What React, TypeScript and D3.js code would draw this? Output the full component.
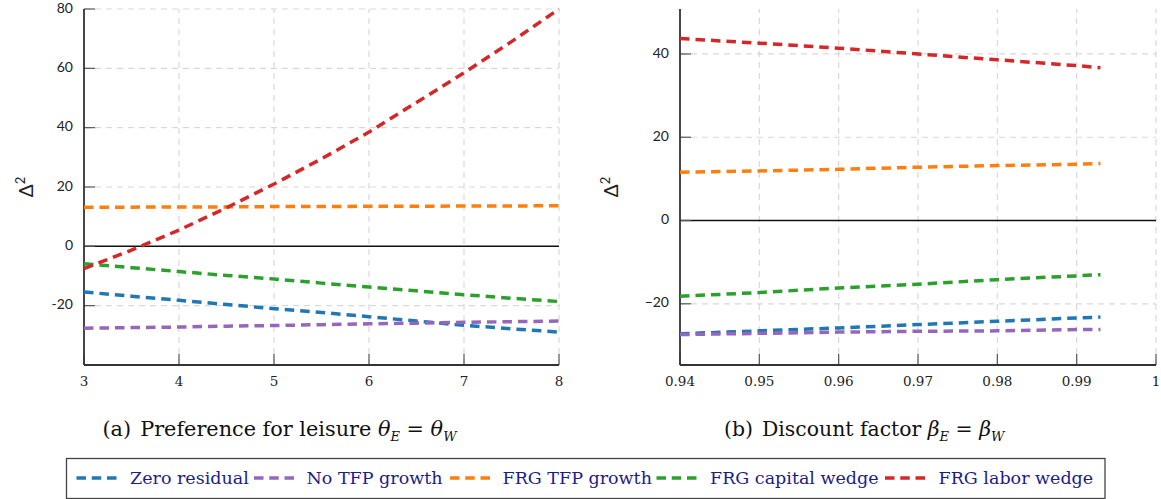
import React from "react";
import * as d3 from "d3";

// Sensitivity of Δ² to the preference for leisure θ_E = θ_W
const thetaGrid = [3, 3.5, 4, 4.5, 5, 5.5, 6, 6.5, 7, 7.5, 8];
const thetaZeroResidual = [-15.4, -16.8, -18.2, -19.6, -21.0, -22.3, -23.7, -25.2, -26.6, -27.8, -28.9];
const thetaNoTfpGrowth = [-27.6, -27.4, -27.2, -26.9, -26.7, -26.4, -26.1, -25.9, -25.6, -25.4, -25.2];
const thetaFrgTfpGrowth = [13.2, 13.2, 13.3, 13.3, 13.4, 13.4, 13.5, 13.5, 13.6, 13.6, 13.7];
const thetaFrgCapitalWedge = [-5.9, -7.2, -8.5, -9.8, -11.0, -12.4, -13.7, -15.0, -16.3, -17.5, -18.6];
const thetaFrgLaborWedge = [-7.5, -1.3, 5.5, 13.0, 21.0, 29.5, 38.5, 48.5, 58.5, 69.0, 80.0];
const thetaTicksX = [3, 4, 5, 6, 7, 8];
const thetaTicksY = [-20, 0, 20, 40, 60, 80];

// Sensitivity of Δ² to the discount factor β_E = β_W
const betaGrid = [0.94, 0.95, 0.96, 0.97, 0.98, 0.99, 0.993];
const betaZeroResidual = [-27.2, -26.5, -25.8, -25.0, -24.2, -23.4, -23.2];
const betaNoTfpGrowth = [-27.4, -27.1, -26.8, -26.6, -26.5, -26.2, -26.2];
const betaFrgTfpGrowth = [11.6, 11.9, 12.3, 12.8, 13.2, 13.5, 13.7];
const betaFrgCapitalWedge = [-18.2, -17.3, -16.2, -15.3, -14.2, -13.3, -13.0];
const betaFrgLaborWedge = [43.7, 42.6, 41.4, 40.0, 38.6, 37.2, 36.7];
const betaTicksX = [0.94, 0.95, 0.96, 0.97, 0.98, 0.99, 1];
const betaTicksY = [-20, 0, 20, 40];

const seriesNames = ["Zero residual", "No TFP growth", "FRG TFP growth", "FRG capital wedge", "FRG labor wedge"];
const seriesColors = ["#1f77b4", "#9467bd", "#ff7f0e", "#2ca02c", "#d62728"];

const SANS = "Lato, 'Open Sans', sans-serif";
const SERIF = "'DejaVu Serif', serif";
const INK = "#1c1c8a";

type PanelProps = {
  xGrid: number[];
  series: number[][];
  xDomain: [number, number];
  yDomain: [number, number];
  xRange: [number, number];
  yRange: [number, number];
  xTicks: number[];
  yTicks: number[];
  xFmt: (v: number) => string;
  yFmt: (v: number) => string;
  yLabelX: number;
};

function Panel(p: PanelProps) {
  const x = d3.scaleLinear().domain(p.xDomain).range(p.xRange);
  const y = d3.scaleLinear().domain(p.yDomain).range(p.yRange);
  const [x0, x1] = p.xRange;
  const [yb, yt] = p.yRange;
  const line = d3
    .line<[number, number]>()
    .x((d) => x(d[0]))
    .y((d) => y(d[1]));
  const tickLen = 11;
  return (
    <g>
      {/* grid */}
      {p.xTicks
        .filter((t) => x(t) > x0 + 1)
        .map((t) => (
          <line key={"gx" + t} x1={x(t)} x2={x(t)} y1={yb} y2={yt} stroke="#d9d9d9" strokeWidth={1.2} strokeDasharray="6,5" />
        ))}
      {p.yTicks
        .filter((t) => t !== 0)
        .map((t) => (
          <line key={"gy" + t} x1={x0} x2={x1} y1={y(t)} y2={y(t)} stroke="#d9d9d9" strokeWidth={1.2} strokeDasharray="6,5" />
        ))}
      {/* zero line */}
      <line x1={x0} x2={x1} y1={y(0)} y2={y(0)} stroke="#111" strokeWidth={1.5} />
      {/* ticks */}
      {p.xTicks.map((t) => (
        <line key={"tx" + t} x1={x(t)} x2={x(t)} y1={yb} y2={yb - tickLen} stroke="#555" strokeWidth={1.2} />
      ))}
      {p.yTicks.map((t) => (
        <line key={"ty" + t} x1={x0} x2={x0 + tickLen} y1={y(t)} y2={y(t)} stroke="#555" strokeWidth={1.2} />
      ))}
      {/* axes */}
      <line x1={x0} x2={x0} y1={yt} y2={yb} stroke="#333" strokeWidth={1.8} />
      <line x1={x0} x2={x1} y1={yb} y2={yb} stroke="#333" strokeWidth={1.8} />
      {/* series */}
      {p.series.map((vals, i) => (
        <path
          key={"s" + i}
          d={line(p.xGrid.map((g, j) => [g, vals[j]] as [number, number])) || ""}
          fill="none"
          stroke={seriesColors[i]}
          strokeWidth={3.5}
          strokeDasharray="9.5,6"
        />
      ))}
      {/* tick labels */}
      {p.xTicks.map((t) => (
        <text key={"lx" + t} x={x(t)} y={yb + 17} textAnchor="middle" dominantBaseline="middle" fontFamily={SERIF} fontSize={13.5} fill="#222">
          {p.xFmt(t)}
        </text>
      ))}
      {p.yTicks.map((t) => (
        <text key={"ly" + t} x={x0 - 11} y={y(t)} textAnchor="end" dominantBaseline="middle" fontFamily={SANS} fontSize={14} fill="#222">
          {p.yFmt(t)}
        </text>
      ))}
      {/* y label */}
      <text transform={`translate(${p.yLabelX},${(yt + yb) / 2}) rotate(-90)`} textAnchor="middle" fontFamily={SANS} fontSize={19} fill="#222">
        Δ<tspan dy={-8} fontSize={13}>2</tspan>
      </text>
    </g>
  );
}

export default function App() {
  const thetaSeries = [thetaZeroResidual, thetaNoTfpGrowth, thetaFrgTfpGrowth, thetaFrgCapitalWedge, thetaFrgLaborWedge];
  const betaSeries = [betaZeroResidual, betaNoTfpGrowth, betaFrgTfpGrowth, betaFrgCapitalWedge, betaFrgLaborWedge];
  const legendDashX = [76.5, 254, 450, 656.5, 885];
  const legendTextX = [130, 306.5, 502.5, 710, 938.5];
  return (
    <svg width={1161} height={499} style={{ position: "absolute", left: 0, top: 0, background: "#fff" }}>
      <rect width={1161} height={499} fill="#fff" />
      <Panel
        xGrid={thetaGrid}
        series={thetaSeries}
        xDomain={[3, 8]}
        yDomain={[-40, 80]}
        xRange={[84, 559]}
        yRange={[365, 9]}
        xTicks={thetaTicksX}
        yTicks={thetaTicksY}
        xFmt={(v) => String(v)}
        yFmt={(v) => (v < 0 ? "-" + Math.abs(v) : String(v))}
        yLabelX={33}
      />
      <Panel
        xGrid={betaGrid}
        series={betaSeries}
        xDomain={[0.94, 1]}
        yDomain={[-34.7, 50.8]}
        xRange={[680, 1156]}
        yRange={[365, 9]}
        xTicks={betaTicksX}
        yTicks={betaTicksY}
        xFmt={(v) => (v === 1 ? "1" : d3.format(".2f")(v))}
        yFmt={(v) => (v < 0 ? "\u2212" + Math.abs(v) : String(v))}
        yLabelX={618}
      />
      {/* captions */}
      <text x={102.5} y={436} fontFamily={SERIF} fontSize={20.8} fill="#111">
        (a)<tspan dx={9}>Preference for leisure </tspan>
        <tspan fontStyle="italic">θ</tspan>
        <tspan fontStyle="italic" fontSize={13} dy={5}>E</tspan>
        <tspan dy={-5}> = </tspan>
        <tspan fontStyle="italic">θ</tspan>
        <tspan fontStyle="italic" fontSize={13} dy={5}>W</tspan>
      </text>
      <text x={724} y={436} fontFamily={SERIF} fontSize={20.4} fill="#111">
        (b)<tspan dx={9}>Discount factor </tspan>
        <tspan fontStyle="italic">β</tspan>
        <tspan fontStyle="italic" fontSize={13} dy={5}>E</tspan>
        <tspan dy={-5}> = </tspan>
        <tspan fontStyle="italic">β</tspan>
        <tspan fontStyle="italic" fontSize={13} dy={5}>W</tspan>
      </text>
      {/* legend */}
      <rect x={66.5} y={458.5} width={1038.5} height={40} fill="#fff" stroke="#444" strokeWidth={1.3} />
      {seriesNames.map((name, i) => (
        <g key={name}>
          <line x1={legendDashX[i]} x2={legendDashX[i] + 40} y1={478} y2={478} stroke={seriesColors[i]} strokeWidth={3.5} strokeDasharray="9.5,5.75" />
          <text x={legendTextX[i]} y={484} fontFamily={SERIF} fontSize={17.5} fill={INK}>
            {name}
          </text>
        </g>
      ))}
    </svg>
  );
}
